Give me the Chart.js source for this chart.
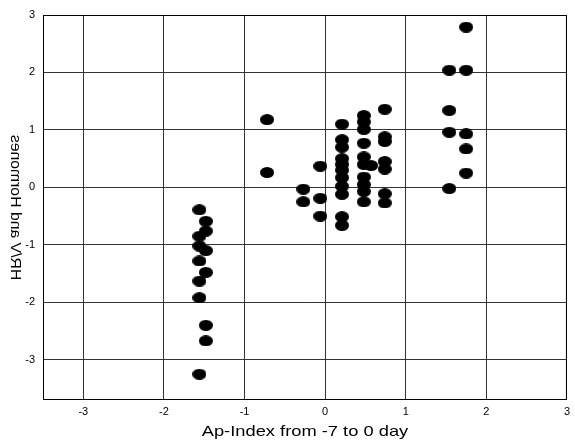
<!DOCTYPE html>
<html>
<head>
<meta charset="utf-8">
<script src="https://cdn.jsdelivr.net/npm/chart.js@4.4.1/dist/chart.umd.min.js"></script>
<style>
  body { margin: 0; background: #fff; }
  #chart { display: block; }
</style>
</head>
<body>
<canvas id="chart" width="575" height="443"></canvas>
<script>
// values, one entry per point
const apIndex = [
  -1.56, -1.56, -1.56, -1.56, -1.56, -1.56, -1.56,
  -1.48, -1.48, -1.48, -1.48, -1.48, -1.48,
  -0.72, -0.72,
  -0.27, -0.27,
  -0.06, -0.06, -0.06,
  0.21, 0.21, 0.21, 0.21, 0.21, 0.21, 0.21, 0.21, 0.21, 0.21, 0.21,
  0.48, 0.48, 0.48, 0.48, 0.48, 0.48, 0.48, 0.48, 0.48, 0.48,
  0.57,
  0.74, 0.74, 0.74, 0.74, 0.74, 0.74, 0.74,
  1.54, 1.54, 1.54, 1.54,
  1.75, 1.75, 1.75, 1.75, 1.75
];
const hrvHormones = [
  -0.39, -0.85, -1.02, -1.28, -1.63, -1.92, -3.25,
  -0.59, -0.76, -1.10, -1.48, -2.40, -2.67,
  1.18, 0.26,
  -0.03, -0.25,
  0.37, -0.19, -0.50,
  1.10, 0.83, 0.70, 0.50, 0.40, 0.30, 0.17, 0.02, -0.12, -0.51, -0.66,
  1.25, 1.14, 1.01, 0.77, 0.53, 0.40, 0.18, 0.05, -0.07, -0.25,
  0.38,
  1.36, 0.88, 0.80, 0.45, 0.32, -0.11, -0.27,
  2.04, 1.34, 0.96, -0.02,
  2.79, 2.04, 0.93, 0.67, 0.25
];
const xTitle = 'Ap-Index from -7 to 0 day';
const yTitle = 'HR/V and Hormones';

const FONT = '"Liberation Sans", Arial, sans-serif';

// the markers are slightly flattened ellipses
const dot = document.createElement('canvas');
dot.width = 14; dot.height = 11;
const dctx = dot.getContext('2d');
dctx.fillStyle = '#000';
dctx.beginPath();
dctx.ellipse(7, 5.5, 7, 5.5, 0, 0, Math.PI * 2);
dctx.fill();

const points = apIndex.map((x, i) => ({ x: x, y: hrvHormones[i] }));

// frame + axis titles (y title is mirrored like in the source)
const decor = {
  id: 'decor',
  afterDraw(chart) {
    const { ctx, chartArea: a } = chart;
    ctx.save();
    ctx.strokeStyle = '#000';
    ctx.lineWidth = 1;
    ctx.strokeRect(a.left + 0.5, a.top + 0.5, a.right - a.left - 1, a.bottom - a.top - 1);

    ctx.fillStyle = '#000';
    ctx.font = '15px ' + FONT;
    ctx.textAlign = 'center';
    ctx.textBaseline = 'middle';

    ctx.save();
    ctx.translate((a.left + a.right) / 2, 432);
    ctx.scale(1.22, 1);
    ctx.fillText(xTitle, 0, 0);
    ctx.restore();

    ctx.save();
    ctx.translate(15, (a.top + a.bottom) / 2);
    ctx.rotate(-Math.PI / 2);
    ctx.scale(1.05, -1);
    ctx.fillText(yTitle, 0, 0);
    ctx.restore();

    ctx.restore();
  }
};

new Chart(document.getElementById('chart'), {
  type: 'scatter',
  data: {
    datasets: [{
      data: points,
      pointStyle: dot,
      backgroundColor: '#000',
      borderColor: '#000'
    }]
  },
  options: {
    responsive: false,
    animation: false,
    devicePixelRatio: 1,
    layout: { padding: { top: 15, right: 3, left: 0, bottom: 0 } },
    plugins: { legend: { display: false }, tooltip: { enabled: false } },
    scales: {
      x: {
        min: -3.5, max: 3,
        ticks: { stepSize: 1, includeBounds: false, color: '#000', padding: 5, font: { family: FONT, size: 11 } },
        grid: { color: '#333', drawTicks: false },
        border: { display: false },
        afterFit(s) { s.height = 43; }
      },
      y: {
        min: -3.7, max: 3,
        ticks: { stepSize: 1, includeBounds: false, color: '#000', padding: 8, font: { family: FONT, size: 11 } },
        grid: { color: '#333', drawTicks: false },
        border: { display: false },
        afterFit(s) { s.width = 43; }
      }
    }
  },
  plugins: [decor]
});
</script>
</body>
</html>
